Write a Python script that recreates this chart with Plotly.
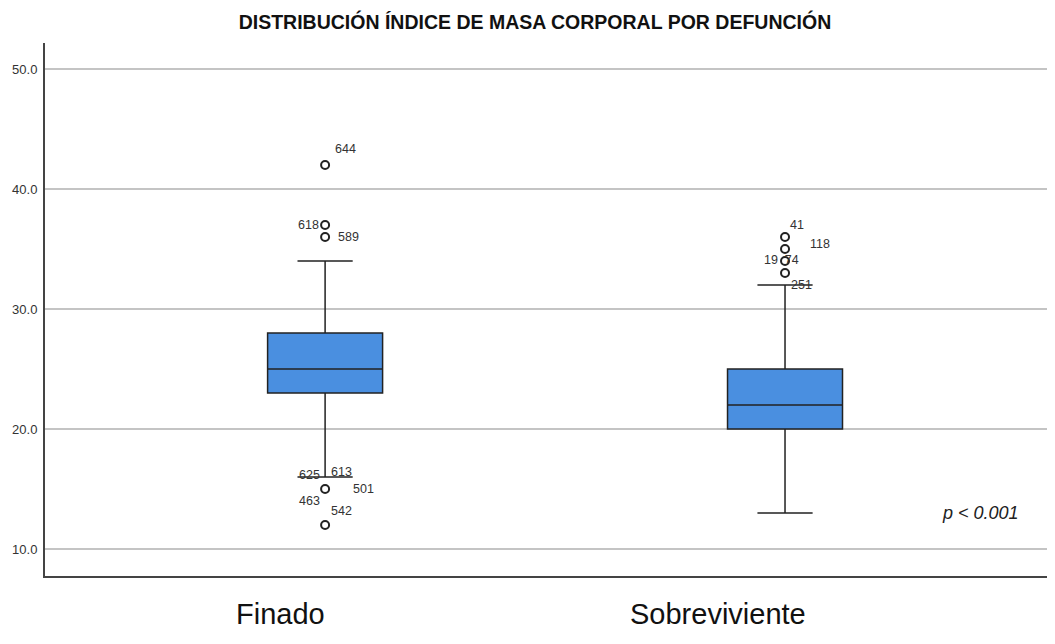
import plotly.graph_objects as go

categories = ["Finado", "Sobreviviente"]
q1 = [23, 20]
median = [25, 22]
q3 = [28, 25]
lower_whisker = [16, 13]
upper_whisker = [34, 32]

# outliers (value) per group
finado_outliers = [42, 37, 36, 15, 12]
sobrev_outliers = [36, 35, 34, 33]

# outlier labels: (group index, value, text, x offset in category units)
label_group = [0, 0, 0, 0, 0, 0, 0, 0, 1, 1, 1, 1]
label_value = [43.3, 37.0, 36.0, 16.2, 16.4, 15.0, 14.0, 13.2, 37.0, 35.4, 34.1, 32.0]
label_text = ["644", "618", "589", "625", "613", "501", "463", "542", "41", "118", "19  74", "251"]
label_dx = [0.045, -0.037, 0.05, -0.035, 0.035, 0.083, -0.033, 0.035, 0.027, 0.075, -0.008, 0.035]

xpos = [0, 1]
fig = go.Figure()
fig.add_trace(go.Box(
    x=xpos, q1=q1, median=median, q3=q3,
    lowerfence=lower_whisker, upperfence=upper_whisker,
    fillcolor="#4a8fe0", line=dict(color="#222222", width=1.5),
    whiskerwidth=0.48, width=0.25, boxpoints=False, showlegend=False,
    hoverinfo="skip"))

for gi, outs in enumerate([finado_outliers, sobrev_outliers]):
    fig.add_trace(go.Scatter(
        x=[xpos[gi]] * len(outs), y=outs, mode="markers",
        marker=dict(symbol="circle-open", size=8, color="#222222", line=dict(width=2)),
        showlegend=False, hoverinfo="skip"))

for g, v, t, dx in zip(label_group, label_value, label_text, label_dx):
    fig.add_annotation(x=xpos[g] + dx, y=v, text=t, showarrow=False,
                       font=dict(family="Liberation Sans, Arial", size=12.5, color="#333333"))

cat_label_x = [-0.098, 0.855]
for cx, c in zip(cat_label_x, categories):
    fig.add_annotation(x=cx, y=0, yref="paper", yshift=-38, text=c, showarrow=False,
                       yanchor="middle",
                       font=dict(family="Liberation Sans, Arial", size=29, color="#111111"))

fig.add_annotation(x=1.424, y=13.0, text="<i>p < 0.001</i>", showarrow=False,
                   font=dict(family="Liberation Sans, Arial", size=18, color="#222222"))

fig.update_layout(
    width=1055, height=644,
    margin=dict(l=37, r=8, t=35, b=76, autoexpand=False),
    paper_bgcolor="white", plot_bgcolor="white",
    title=dict(text="<b>DISTRIBUCIÓN ÍNDICE DE MASA CORPORAL POR DEFUNCIÓN</b>",
               x=0.4995, xanchor="center", y=0.978, yanchor="middle",
               font=dict(family="Liberation Sans, Arial", size=19.5, color="#111111")),
    xaxis=dict(range=[-0.609, 1.587], showticklabels=False, showgrid=False, zeroline=False,
               showline=True, linecolor="#444444", linewidth=2, ticks="", automargin=False),
    yaxis=dict(range=[7.75, 52.17], tickvals=[10, 20, 30, 40, 50],
               ticktext=["10.0", "20.0", "30.0", "40.0", "50.0"],
               showgrid=True, gridcolor="#c4c4c4", gridwidth=1.5, zeroline=False,
               showline=True, linecolor="#444444", linewidth=2, ticks="", automargin=False,
               ticklabelstandoff=3,
               tickfont=dict(family="Liberation Sans, Arial", size=13, color="#333333")),
)

fig.write_html("out.html")
